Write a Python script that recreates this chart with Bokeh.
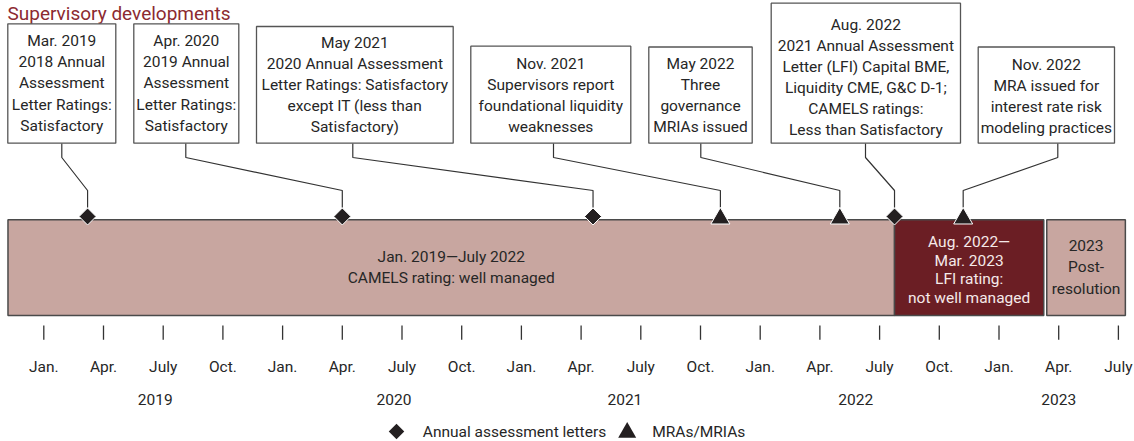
import math
from bokeh.plotting import figure
from bokeh.models import Range1d
from bokeh.core.properties import value
from bokeh.embed import file_html
from bokeh.resources import INLINE

# ---------------- data (months counted from Jan. 2019 = 0) ----------------
tick_months = list(range(0, 55, 3))
tick_labels = ["Jan.", "Apr.", "July", "Oct."] * 4 + ["Jan.", "Apr.", "July"]
year_labels = ["2019", "2020", "2021", "2022", "2023"]

period_texts = [
    "Jan. 2019\u2014July 2022\nCAMELS rating: well managed",
    "Aug. 2022\u2014\nMar. 2023\nLFI rating:\nnot well managed",
    "2023\nPost-\nresolution",
]
period_start = [-1.8, 42.75, 50.4]
period_end = [42.75, 50.25, 54.35]

event_months = [2.2, 15.0, 27.6, 34.0, 40.0, 42.75, 46.2]
event_types = ["letter", "letter", "letter", "mra", "mra", "letter", "mra"]
event_texts = [
    "Mar. 2019\n2018 Annual\nAssessment\nLetter Ratings:\nSatisfactory",
    "Apr. 2020\n2019 Annual\nAssessment\nLetter Ratings:\nSatisfactory",
    "May 2021\n2020 Annual Assessment\nLetter Ratings: Satisfactory\nexcept IT (less than\nSatisfactory)",
    "Nov. 2021\nSupervisors report\nfoundational liquidity\nweaknesses",
    "May 2022\nThree\ngovernance\nMRIAs issued",
    "Aug. 2022\n2021 Annual Assessment\nLetter (LFI) Capital BME,\nLiquidity CME, G&C D-1;\nCAMELS ratings:\nLess than Satisfactory",
    "Nov. 2022\nMRA issued for\ninterest rate risk\nmodeling practices",
]
legend_labels = ["Annual assessment letters", "MRAs/MRIAs"]
title_text = "Supervisory developments"

# ---------------- layout (pixels) ----------------
W, H = 1134, 441
PX0, PXM = 43.3, 19.9          # x pixel of Jan. 2019 and pixels per month


def to_m(px):
    return (px - PX0) / PXM


FONT = value("Roboto")
FS = "15.5px"
DARK = "#231f20"
TXT = "#262626"

box_left = [7.3, 133.3, 256, 470.3, 648.3, 770.7, 977.7]
box_right = [115.3, 238.3, 452.7, 630.3, 751.7, 960, 1114]
box_top = [23.3, 23.3, 26, 45.7, 46.5, 2.7, 46.5]
box_text_shift = [0, 0, 0, 0.5, 0, 4, 1]
box_bottom = 142.7
attach_px = [61.3, 185.3, 352.3, 553, 700.3, 865, 1057.3]
elbow1_y, elbow2_y, marker_top_y = 157, 190, 207

bar_top, bar_bottom = 219.3, 315
bar_colors = ["#c8a6a0", "#6b1e24", "#c8a6a0"]
bar_text_colors = [TXT, "#f5e9e9", TXT]
bar_text_y = [267, 269.5, 267]
bar_line_h = [1.13, 1.02, 1.19]

p = figure(
    width=W, height=H,
    x_range=Range1d(to_m(0), to_m(W)),
    y_range=Range1d(H, 0),
    x_axis_location=None, y_axis_location=None,
    toolbar_location=None, output_backend="svg",
    min_border=0, outline_line_color=None,
    background_fill_color="white", border_fill_color="white",
)
p.grid.visible = False

# title
p.text(x=[to_m(7)], y=[1], text=[title_text], text_font=FONT,
       text_font_size="19px", text_color="#8c2a31",
       text_align="left", text_baseline="top")

# connectors
xs, ys = [], []
for a, m in zip(attach_px, event_months):
    xs.append([to_m(a), to_m(a), m, m])
    ys.append([box_bottom, elbow1_y, elbow2_y, marker_top_y])
p.multi_line(xs=xs, ys=ys, line_color="#333333", line_width=1.2)

# callout boxes
p.quad(left=[to_m(v) for v in box_left], right=[to_m(v) for v in box_right],
       top=box_top, bottom=[box_bottom] * len(box_top),
       fill_color="white", line_color="#555555", line_width=1.3)
p.text(x=[to_m((l + r) / 2) for l, r in zip(box_left, box_right)],
       y=[(t + box_bottom) / 2 + s for t, s in zip(box_top, box_text_shift)],
       text=event_texts, text_font=FONT, text_font_size=FS,
       text_color=TXT, text_align="center", text_baseline="middle",
       text_line_height=1.17)

# period bars
p.quad(left=period_start, right=period_end,
       top=[bar_top] * 3, bottom=[bar_bottom] * 3,
       fill_color=bar_colors, line_color="#4a4a4a", line_width=1.5)
for i in range(3):
    p.text(x=[(period_start[i] + period_end[i]) / 2], y=[bar_text_y[i]],
           text=[period_texts[i]], text_font=FONT, text_font_size=FS,
           text_color=bar_text_colors[i], text_align="center",
           text_baseline="middle", text_line_height=bar_line_h[i])

# event markers
lx = [m for m, t in zip(event_months, event_types) if t == "letter"]
mx = [m for m, t in zip(event_months, event_types) if t == "mra"]
p.scatter(x=lx, y=[216] * len(lx), marker="square", angle=math.pi / 4,
          size=12, fill_color=DARK, line_color="white", line_width=1)
p.scatter(x=mx, y=[218] * len(mx), marker="triangle", size=19,
          fill_color=DARK, line_color="white", line_width=1)

# time axis: ticks, month labels, year labels
p.segment(x0=tick_months, x1=tick_months, y0=[325] * len(tick_months),
          y1=[339.3] * len(tick_months), line_color="#333333", line_width=1.3)
p.text(x=tick_months, y=[366] * len(tick_months), text=tick_labels,
       text_font=FONT, text_font_size=FS, text_color=TXT,
       text_align="center", text_baseline="middle")
year_pos = [5.6, 17.6, 29.2, 40.8, 51.0]
p.text(x=year_pos, y=[399] * len(year_pos), text=year_labels,
       text_font=FONT, text_font_size=FS, text_color=TXT,
       text_align="center", text_baseline="middle")

# legend
p.scatter(x=[to_m(396)], y=[431], marker="square", angle=math.pi / 4,
          size=11, fill_color=DARK, line_color=None)
p.scatter(x=[to_m(626.7)], y=[432], marker="triangle", size=18,
          fill_color=DARK, line_color=None)
p.text(x=[to_m(422.3), to_m(651.7)], y=[431, 431], text=legend_labels,
       text_font=FONT, text_font_size=FS, text_color=TXT,
       text_align="left", text_baseline="middle")

open("out.html", "w").write(file_html(p, INLINE))
